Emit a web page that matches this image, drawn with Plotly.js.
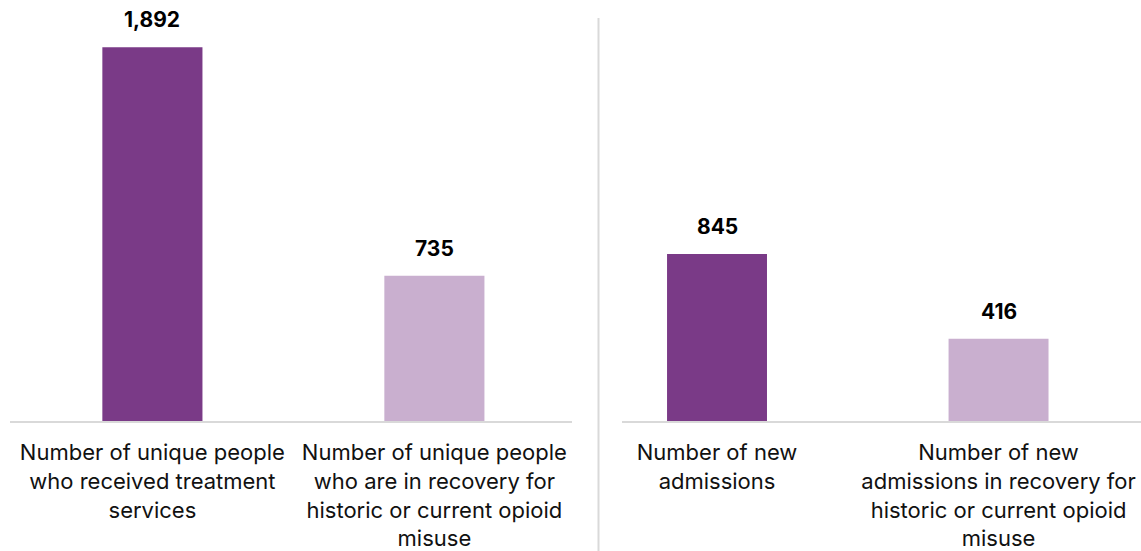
<!DOCTYPE html>
<html>
<head>
<meta charset="utf-8">
<script src="https://cdn.plot.ly/plotly-3.0.1.min.js"></script>
<style>html,body{margin:0;padding:0;background:#fff;}#chart{width:1141px;height:551px;}</style>
</head>
<body>
<div id="chart"></div>
<script>
const leftCategories = [
  "Number of unique people<br>who received treatment<br>services",
  "Number of unique people<br>who are in recovery for<br>historic or current opioid<br>misuse"
];
const leftValues = [1892, 735];
const rightCategories = [
  "Number of new<br>admissions",
  "Number of new<br>admissions in recovery for<br>historic or current opioid<br>misuse"
];
const rightValues = [845, 416];
const barColors = ["#7A3A87", "#C9AFCF"];

const fmt = v => v.toLocaleString("en-US");
const FONT = "Inter, 'Liberation Sans', Arial, sans-serif";

const traces = [
  {type: "bar", x: leftCategories, y: leftValues, xaxis: "x", yaxis: "y",
   marker: {color: barColors}, width: 0.355, hoverinfo: "skip"},
  {type: "bar", x: rightCategories, y: rightValues, xaxis: "x2", yaxis: "y2",
   marker: {color: barColors}, width: 0.355, hoverinfo: "skip"}
];

const annotations = [];
leftCategories.forEach((c, i) => annotations.push({
  x: c, y: leftValues[i], xref: "x", yref: "y", text: "<b>" + fmt(leftValues[i]) + "</b>",
  showarrow: false, yanchor: "bottom", yshift: 13, font: {size: 21, color: "#000", family: FONT}
}));
rightCategories.forEach((c, i) => annotations.push({
  x: c, y: rightValues[i], xref: "x2", yref: "y2", text: "<b>" + fmt(rightValues[i]) + "</b>",
  showarrow: false, yanchor: "bottom", yshift: 13, font: {size: 21, color: "#000", family: FONT}
}));

const axisCommon = {
  type: "category", showline: true, linecolor: "#d9d9d9", linewidth: 2,
  showgrid: false, zeroline: false, ticks: "", tickangle: 0, ticklabelstandoff: 11,
  tickfont: {size: 22, color: "#111", family: FONT}, fixedrange: true
};
const yCommon = {range: [0, 2030], showgrid: false, zeroline: false, showticklabels: false, showline: false, fixedrange: true};

const layout = {
  width: 1141, height: 551,
  margin: {l: 0, r: 0, t: 20, b: 130},
  paper_bgcolor: "#fff", plot_bgcolor: "#fff",
  showlegend: false,
  xaxis: Object.assign({}, axisCommon, {domain: [10/1141, 572/1141], range: [-0.505, 1.488], anchor: "y"}),
  xaxis2: Object.assign({}, axisCommon, {domain: [622/1141, 1], range: [-0.3375, 1.506], anchor: "y2"}),
  yaxis: Object.assign({}, yCommon, {domain: [0, 1], anchor: "x"}),
  yaxis2: Object.assign({}, yCommon, {domain: [0, 1], anchor: "x2"}),
  annotations: annotations,
  shapes: [{type: "line", xref: "paper", yref: "paper", x0: 598.5/1141, x1: 598.5/1141,
            y0: -0.33, y1: 1.005, line: {color: "#d9d9d9", width: 2}}]
};

Plotly.newPlot("chart", traces, layout, {displayModeBar: false, staticPlot: true});
</script>
</body>
</html>
